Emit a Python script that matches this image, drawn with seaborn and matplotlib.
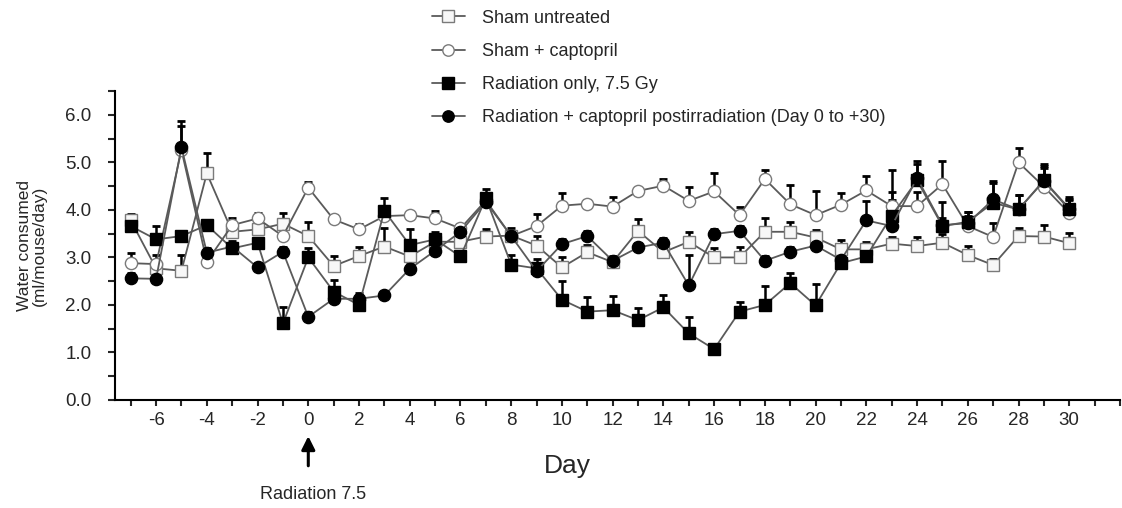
import matplotlib
matplotlib.use("Agg")
import matplotlib.pyplot as plt
from matplotlib.lines import Line2D
import seaborn as sns
import numpy as np

days = list(range(-7, 31))

sham_untreated = [3.78, 2.77, 2.72, 4.77, 3.54, 3.59, 3.71, 3.45, 2.82, 3.03,
                  3.23, 3.02, 3.33, 3.33, 3.44, 3.46, 3.25, 2.79, 3.11, 2.90,
                  3.56, 3.11, 3.33, 3.00, 3.00, 3.54, 3.54, 3.42, 3.17, 3.17,
                  3.29, 3.24, 3.31, 3.05, 2.84, 3.45, 3.44, 3.30]
sham_untreated_err = [0.12, 0.10, 0.33, 0.43, 0.10, 0.12, 0.22, 0.30, 0.22, 0.20,
                      0.38, 0.28, 0.10, 0.10, 0.15, 0.15, 0.20, 0.22, 0.15, 0.10,
                      0.25, 0.10, 0.20, 0.20, 0.22, 0.30, 0.20, 0.15, 0.20, 0.15,
                      0.15, 0.18, 0.18, 0.20, 0.12, 0.18, 0.25, 0.22]

sham_capto = [2.88, 2.86, 5.26, 2.91, 3.68, 3.82, 3.45, 4.47, 3.80, 3.59,
              3.87, 3.89, 3.82, 3.61, 4.20, 3.45, 3.66, 4.09, 4.13, 4.07,
              4.40, 4.51, 4.19, 4.39, 3.89, 4.65, 4.12, 3.89, 4.11, 4.41,
              4.08, 4.08, 4.54, 3.66, 3.43, 5.00, 4.49, 3.93]
sham_capto_err = [0.21, 0.20, 0.50, 0.10, 0.15, 0.12, 0.20, 0.12, 0.10, 0.12,
                  0.20, 0.05, 0.15, 0.10, 0.15, 0.10, 0.25, 0.27, 0.08, 0.20,
                  0.05, 0.15, 0.30, 0.38, 0.18, 0.20, 0.40, 0.50, 0.25, 0.30,
                  0.75, 0.30, 0.50, 0.30, 0.30, 0.30, 0.40, 0.30]

rad_only = [3.66, 3.38, 3.45, 3.68, 3.19, 3.31, 1.61, 3.00, 2.28, 2.00,
            3.98, 3.26, 3.38, 3.02, 4.25, 2.85, 2.77, 2.11, 1.86, 1.89,
            1.68, 1.95, 1.40, 1.07, 1.86, 2.00, 2.46, 1.99, 2.88, 3.02,
            3.88, 4.62, 3.66, 3.75, 4.15, 4.01, 4.62, 4.03]
rad_only_err = [0.25, 0.28, 0.10, 0.10, 0.10, 0.10, 0.35, 0.20, 0.25, 0.15,
                0.28, 0.33, 0.15, 0.10, 0.20, 0.20, 0.20, 0.40, 0.30, 0.30,
                0.25, 0.25, 0.35, 0.10, 0.20, 0.40, 0.22, 0.45, 0.10, 0.10,
                0.50, 0.35, 0.50, 0.20, 0.45, 0.30, 0.30, 0.25]

rad_capto = [2.56, 2.55, 5.32, 3.10, 3.23, 2.79, 3.12, 1.75, 2.13, 2.13,
             2.20, 2.76, 3.14, 3.54, 4.17, 3.45, 2.71, 3.28, 3.45, 2.93,
             3.21, 3.31, 2.41, 3.49, 3.56, 2.93, 3.12, 3.25, 2.95, 3.78,
             3.66, 4.67, 3.68, 3.72, 4.22, 4.01, 4.61, 4.01]
rad_capto_err = [0.12, 0.10, 0.55, 0.10, 0.12, 0.10, 0.10, 0.10, 0.12, 0.12,
                 0.10, 0.10, 0.10, 0.10, 0.12, 0.10, 0.10, 0.10, 0.10, 0.10,
                 0.10, 0.10, 0.65, 0.10, 0.10, 0.10, 0.10, 0.10, 0.10, 0.40,
                 0.55, 0.35, 0.15, 0.15, 0.35, 0.30, 0.35, 0.20]

labels = ["Sham untreated", "Sham + captopril", "Radiation only, 7.5 Gy",
          "Radiation + captopril postirradiation (Day 0 to +30)"]

sns.set_style("ticks")
plt.rcParams['font.family'] = ['Liberation Sans', 'DejaVu Sans']

fig = plt.figure(figsize=(11.22, 5.08), dpi=100)
ax = fig.add_axes([0.1025, 0.2126, 0.8957, 0.608])

styles = [
    dict(marker='s', mfc='#f7f7f7', mec='#7a7a7a'),
    dict(marker='o', mfc='#ffffff', mec='#7a7a7a'),
    dict(marker='s', mfc='#000000', mec='#000000'),
    dict(marker='o', mfc='#000000', mec='#000000'),
]
series = [(sham_untreated, sham_untreated_err), (sham_capto, sham_capto_err),
          (rad_only, rad_only_err), (rad_capto, rad_capto_err)]

x = np.array(days)
for (vals, err), st in zip(series, styles):
    v = np.array(vals)
    e = np.array(err)
    ax.errorbar(x, v, yerr=[np.zeros_like(e), e], fmt='none', ecolor='black',
                elinewidth=1.8, capsize=3.2, capthick=2.0, zorder=2)
    sns.lineplot(x=x, y=v, ax=ax, color='#5a5a5a', linewidth=1.3,
                 marker=st['marker'], markersize=8.8,
                 markerfacecolor=st['mfc'], markeredgecolor=st['mec'],
                 markeredgewidth=1.0, zorder=3)

ax.set_xlim(-7.62, 32.0)
ax.set_ylim(0, 6.5)
ax.set_xticks(np.arange(-7, 33, 1))
ax.set_xticklabels([str(d) if d % 2 == 0 and -6 <= d <= 30 else '' for d in range(-7, 33)])
ax.set_yticks(np.arange(0, 6.51, 0.5))
ax.set_yticklabels([f"{t:.1f}" if abs(t - round(t)) < 1e-9 else '' for t in np.arange(0, 6.51, 0.5)])
ax.tick_params(axis='x', length=4, width=1.5, pad=5, labelsize=13.5)
ax.tick_params(axis='y', length=5, width=1.5, pad=12, labelsize=13.5)
for s in ['left', 'bottom']:
    ax.spines[s].set_linewidth(1.5)
    ax.spines[s].set_color('black')
sns.despine(ax=ax)

ax.set_xlabel('Day', fontsize=19)
ax.xaxis.set_label_coords(0.45, -0.175)
ax.set_ylabel('Water consumed\n(ml/mouse/day)', fontsize=12.5, linespacing=1.0)
ax.yaxis.set_label_coords(-0.068, 0.5)

ax.annotate('', xy=(0, -0.108), xycoords=('data', 'axes fraction'),
            xytext=(0, -0.222), textcoords=('data', 'axes fraction'),
            arrowprops=dict(arrowstyle='-|>', color='black', lw=2.2, mutation_scale=20),
            annotation_clip=False)
ax.text(0.2, -0.305, 'Radiation 7.5', transform=ax.get_xaxis_transform(),
        ha='center', va='center', fontsize=13)

handles = [Line2D([0], [0], color='#5a5a5a', lw=1.3, marker=st['marker'], markersize=8.2,
                  markerfacecolor=st['mfc'], markeredgecolor=st['mec'], markeredgewidth=1.0)
           for st in styles]
fig.legend(handles, labels, loc='upper left', bbox_to_anchor=(0.382, 0.988),
           frameon=False, fontsize=13, handlelength=1.8, handletextpad=0.95,
           labelspacing=0.9, borderpad=0.2, borderaxespad=0)

fig.savefig('out.png', dpi=100)
